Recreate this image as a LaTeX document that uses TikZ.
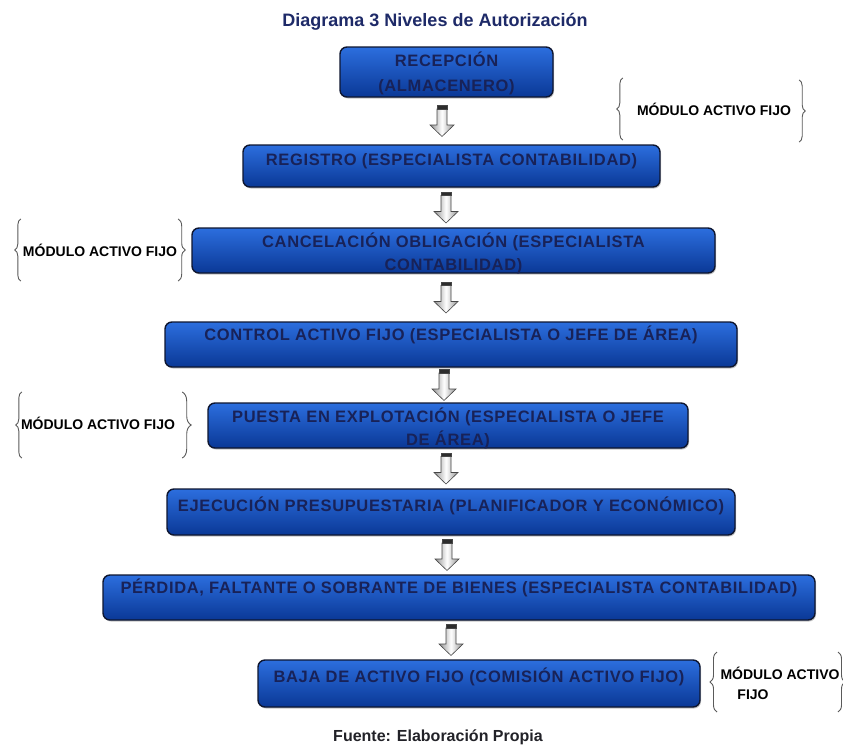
\documentclass[tikz,border=0pt]{standalone}
\usepackage{fontspec}
\setmainfont{Liberation Sans}
\usetikzlibrary{calc,shadows,decorations.pathreplacing}

\definecolor{boxtop}{RGB}{44,110,222}
\definecolor{boxbot}{RGB}{10,56,150}
\definecolor{boxedge}{RGB}{14,22,48}
\definecolor{boxink}{RGB}{24,34,88}
\definecolor{titleink}{RGB}{30,42,104}
\definecolor{footink}{RGB}{34,34,40}
\definecolor{braceink}{RGB}{90,90,90}
\definecolor{arrowside}{RGB}{145,145,145}
\definecolor{arrowedge}{RGB}{70,70,70}
\definecolor{arrowcap}{RGB}{45,45,45}

\tikzset{
  stage/.style={draw=boxedge, line width=1.4pt, rounded corners=7pt,
    top color=boxtop, bottom color=boxbot, inner sep=0pt,
    drop shadow={shadow xshift=1pt, shadow yshift=-1.5pt, opacity=.45}},
  stagetext/.style={text=boxink, inner sep=0pt, anchor=base,
    font=\fontsize{16.5}{23}\selectfont\bfseries\addfontfeatures{LetterSpace=4}},
  tagtext/.style={text=black, inner sep=0pt,
    font=\fontsize{14}{17}\selectfont\bfseries},
  curly/.style={draw=braceink, line width=0.9pt, decorate,
    decoration={brace, amplitude=#1}},
  curly/.default=6pt,
  flowarrow/.pic={
    \path[left color=arrowside, right color=arrowside, middle color=white,
          draw=arrowedge, line width=0.6pt]
      (-5,12) -- (-5,-4) -- (-12,-4) -- (0,-15.5) -- (12,-4)
      -- (5,-4) -- (5,12) -- cycle;
    \path[fill=arrowcap, draw=arrowedge, line width=0.5pt]
      (-5,15.5) rectangle (5,12);
  }
}

\begin{document}
\begin{tikzpicture}[x=1pt,y=1pt]
\fill[white] (0,0) rectangle (843,-747);
\useasboundingbox (0,0) rectangle (843,-747);

% title and source
\node[font=\fontsize{18}{21}\selectfont\bfseries, text=titleink] (title)
  at (435,-22) {Diagrama 3 Niveles de Autorización};
\node[font=\fontsize{16}{19}\selectfont\bfseries, text=footink] (source)
  at (438,-737) {Fuente: Elaboración Propia};

% authorisation stages
\node[stage, minimum width=213, minimum height=50] (b1) at (446.5,-72)   {};
\node[stage, minimum width=417, minimum height=42] (b2) at (451.5,-166)  {};
\node[stage, minimum width=523, minimum height=45] (b3) at (453.5,-250.5){};
\node[stage, minimum width=572, minimum height=45] (b4) at (451,-344.5)  {};
\node[stage, minimum width=480, minimum height=45] (b5) at (448,-425.5)  {};
\node[stage, minimum width=568, minimum height=46] (b6) at (451,-512)    {};
\node[stage, minimum width=712, minimum height=45] (b7) at (459,-597.5)  {};
\node[stage, minimum width=442, minimum height=47] (b8) at (479,-683.5)  {};

% stage labels, kept inside their boxes
\begin{scope}
  \clip[rounded corners=7pt] (b1.south west) rectangle (b1.north east);
  \node[stagetext] (t1a) at ($(b1.north)+(0,-20)$) {RECEPCIÓN};
  \node[stagetext] (t1b) at ($(b1.north)+(0,-45)$) {(ALMACENERO)};
\end{scope}
\node[stagetext] (t2) at ($(b2.north)+(0,-21)$) {REGISTRO (ESPECIALISTA CONTABILIDAD)};
\begin{scope}
  \clip[rounded corners=7pt] (b3.south west) rectangle (b3.north east);
  \node[stagetext] (t3a) at ($(b3.north)+(0,-20)$) {CANCELACIÓN OBLIGACIÓN (ESPECIALISTA};
  \node[stagetext] (t3b) at ($(b3.north)+(0,-43.5)$) {CONTABILIDAD)};
\end{scope}
\node[stagetext] (t4) at ($(b4.north)+(0,-19)$) {CONTROL ACTIVO FIJO (ESPECIALISTA O JEFE DE ÁREA)};
\begin{scope}
  \clip[rounded corners=7pt] (b5.south west) rectangle (b5.north east);
  \node[stagetext] (t5a) at ($(b5.north)+(0,-20)$) {PUESTA EN EXPLOTACIÓN (ESPECIALISTA O JEFE};
  \node[stagetext] (t5b) at ($(b5.north)+(0,-43)$) {DE ÁREA)};
\end{scope}
\node[stagetext] (t6) at ($(b6.north)+(0,-23.5)$) {EJECUCIÓN PRESUPUESTARIA (PLANIFICADOR Y ECONÓMICO)};
\node[stagetext] (t7) at ($(b7.north)+(0,-19)$) {PÉRDIDA, FALTANTE O SOBRANTE DE BIENES (ESPECIALISTA CONTABILIDAD)};
\node[stagetext] (t8) at ($(b8.north)+(0,-23.5)$) {BAJA DE ACTIVO FIJO (COMISIÓN ACTIVO FIJO)};

% block arrows between consecutive stages
\foreach \a/\b/\ax in {b1/b2/442, b2/b3/446, b3/b4/446, b4/b5/444,
                       b5/b6/446, b6/b7/447, b7/b8/451}{
  \coordinate (g\a) at ($(\a.south)!.5!(\b.north)$);
  \pic at (\ax,0 |- g\a) {flowarrow};
}

% module annotations with curly brackets
\node[tagtext] (m1) at (714,-109) {MÓDULO ACTIVO FIJO};
\draw[curly] ($(m1.west)+(-14,-31)$) -- ($(m1.west)+(-14,31)$);
\draw[curly] ($(m1.east)+(8,29)$) -- ($(m1.east)+(8,-33)$);

\node[tagtext] (m2) at (100,-250) {MÓDULO ACTIVO FIJO};
\draw[curly] ($(m2.west)+(-2,-31)$) -- ($(m2.west)+(-2,31)$);
\draw[curly=7pt] ($(m2.east)+(1,31)$) -- ($(m2.east)+(1,-31)$);

\node[tagtext] (m3) at (98,-423) {MÓDULO ACTIVO FIJO};
\draw[curly] ($(m3.west)+(1,-35)$) -- ($(m3.west)+(1,31)$);
\draw[curly=9pt] ($(m3.east)+(7,31)$) -- ($(m3.east)+(7,-35)$);

\node[tagtext] (m4a) at (780,-673) {MÓDULO ACTIVO};
\node[tagtext] (m4b) at (753,-695) {FIJO};
\draw[curly=7pt] (717,-712) -- (717,-652);
\draw[curly=7pt] (838,-652) -- (838,-712);
\end{tikzpicture}
\end{document}
